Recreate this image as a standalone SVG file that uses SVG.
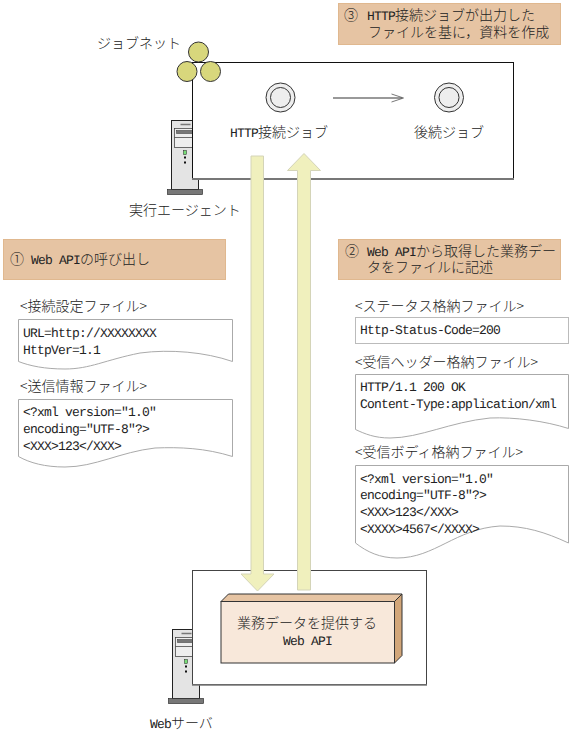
<svg xmlns="http://www.w3.org/2000/svg" width="572" height="735" viewBox="0 0 572 735">
<style>
text{font-family:"Liberation Mono","Noto Sans CJK JP",monospace;font-size:13px;letter-spacing:-.8px;fill:#222;white-space:pre;text-rendering:geometricPrecision}
.j{font-family:"Noto Sans CJK JP","Liberation Sans",sans-serif;font-size:14px;letter-spacing:0;font-weight:300;text-rendering:auto}
.note{fill:#e6c4a3;stroke:#e0b88f;stroke-width:1}
.doc{fill:#fff;stroke:#aaa;stroke-width:1}
.box{fill:#fff;stroke:#111;stroke-width:1}
.shade{fill:none;stroke:#777;stroke-width:2}
.arrow{fill:#f0f0bd;stroke:#d4d4b8;stroke-width:1}
.net{fill:#d8d77c;stroke:#333;stroke-width:1}
</style>
<defs>
<g id="server">
<rect x="0" y="0" width="27" height="69" fill="#e4e4e4" stroke="#222"/>
<rect x="-4" y="69" width="35" height="5" fill="#777" stroke="#333" stroke-width=".7"/>
<rect x="3" y="8" width="21" height="19" fill="#eee" stroke="#333" stroke-width=".7"/>
<rect x="5" y="10" width="18" height="3" fill="#777" stroke="#333" stroke-width=".5"/>
<line x1="3" y1="17" x2="24" y2="17" stroke="#333" stroke-width=".7"/>
<line x1="9" y1="4" x2="19" y2="4" stroke="#777" stroke-width="1.500"/>
<rect x="12" y="30" width="3" height="4" fill="#7d7" stroke="#222" stroke-width=".5"/>
<rect x="12.500" y="36" width="2" height="2" fill="#111"/>
<rect x="12.500" y="41" width="2" height="2" fill="#111"/>
</g>
<g id="job">
<circle r="14.500" fill="#eee" stroke="#333"/>
<circle r="10" fill="#eee" stroke="#333"/>
</g>
</defs>

<g id="agent-server"><use href="#server" x="171.500" y="120.500"/></g>
<g id="jobnet">
<rect class="box" x="192.500" y="62.500" width="321" height="116"/>
<path class="shade" d="M192 179H514"/>
<circle class="net" cx="198.500" cy="52" r="10"/>
<circle class="net" cx="187" cy="71.500" r="10"/>
<circle class="net" cx="210.500" cy="71.500" r="10"/>
<text x="97" y="48" class="j">ジョブネット</text>
</g>
<g id="job1"><use href="#job" x="280.500" y="97.500"/>
<text y="137"><tspan x="230">HTTP</tspan><tspan class="j" x="258">接続ジョブ</tspan></text></g>
<g id="job2"><use href="#job" x="449" y="97.500"/>
<text x="414" y="137" class="j">後続ジョブ</text></g>
<g id="agent-label"><text x="129" y="215" class="j">実行エージェント</text></g>

<g id="note3"><rect class="note" x="338.500" y="3.500" width="222" height="41"/>
<text y="20"><tspan class="j" x="344">③</tspan><tspan x="367">HTTP</tspan><tspan class="j" x="395">接続ジョブが出力した</tspan></text>
<text x="368" y="37" class="j">ファイルを基に，資料を作成</text></g>

<g id="note1"><rect class="note" x="3.500" y="239.500" width="222" height="40"/>
<text y="264"><tspan class="j" x="10">①</tspan><tspan x="31">Web API</tspan><tspan class="j" x="80">の呼び出し</tspan></text></g>

<g id="note2"><rect class="note" x="338.500" y="239.500" width="222" height="40"/>
<text y="256"><tspan class="j" x="345">②</tspan><tspan x="367">Web API</tspan><tspan class="j" x="416">から取得した業務デー</tspan></text>
<text x="367" y="272" class="j">タをファイルに記述</text></g>

<g id="file-conn">
<text x="20" y="311" class="j">&lt;接続設定ファイル&gt;</text>
<path class="doc" d="M18.500 319.500H232.500V361.500C205 352 170 349 140 353C105 360 90 369 65 369C45 369 30 366 18.500 361.500Z"/>
<text x="23" y="337">URL=http://XXXXXXXX</text>
<text x="23" y="354">HttpVer=1.1</text>
</g>
<g id="file-send">
<text x="20" y="391" class="j">&lt;送信情報ファイル&gt;</text>
<path class="doc" d="M18.500 399.500H232.500V456.500C205 448 180 447 155 448C120 452 95 467 65 467C45 467 30 463 18.500 456.500Z"/>
<text x="23" y="416">&lt;?xml version="1.0"</text>
<text x="23" y="433">encoding="UTF-8"?&gt;</text>
<text x="23" y="450">&lt;XXX&gt;123&lt;/XXX&gt;</text>
</g>
<g id="file-status">
<text x="355" y="311" class="j">&lt;ステータス格納ファイル&gt;</text>
<rect x="355.500" y="317.500" width="213" height="26" fill="#fff" stroke="#bbb"/>
<text x="360" y="334">Http-Status-Code=200</text>
</g>
<g id="file-head">
<text x="355" y="367" class="j">&lt;受信ヘッダー格納ファイル&gt;</text>
<path class="doc" d="M355.500 374.500H568.500V428.500C545 421 515 417 490 418C450 422 420 438 390 438C375 438 365 434 355.500 429.500Z"/>
<text x="360" y="391">HTTP/1.1 200 OK</text>
<text x="360" y="408">Content-Type:application/xml</text>
</g>
<g id="file-body">
<text x="355" y="457" class="j">&lt;受信ボディ格納ファイル&gt;</text>
<path class="doc" d="M355.500 465.500H568.500V543C545 532 525 526 500 526C455 529 435 558 397 558C380 558 367 552 355.500 543Z"/>
<text x="360" y="483">&lt;?xml version="1.0"</text>
<text x="360" y="499">encoding="UTF-8"?&gt;</text>
<text x="360" y="516">&lt;XXX&gt;123&lt;/XXX&gt;</text>
<text x="360" y="533">&lt;XXXX&gt;4567&lt;/XXXX&gt;</text>
</g>

<g id="web-server"><use href="#server" x="172.500" y="629.500"/>
<text y="728"><tspan x="150">Web</tspan><tspan class="j" x="171">サーバ</tspan></text></g>
<g id="webbox">
<rect x="192.500" y="570.500" width="234" height="114" fill="#fff" stroke="#444"/>
<path d="M192 685H427" fill="none" stroke="#777" stroke-width="1.500"/>
</g>
<g id="api">
<path d="M221 601.500L228.500 594H402L394.500 601.500Z" fill="#e6c4a3" stroke="#333"/>
<path d="M394.500 601.500L402 594V655.500L394.500 663Z" fill="#d2a679" stroke="#333"/>
<rect x="221" y="601.500" width="173.500" height="61.500" fill="#f8e8da" stroke="#333"/>
<text x="237" y="628" class="j">業務データを提供する</text>
<text x="283" y="645">Web API</text>
</g>

<g id="connectors">
<path d="M333 98H402" fill="none" stroke="#777" stroke-width="1.500"/>
<path d="M391.500 94L403.500 98L391.500 102" fill="none" stroke="#555" stroke-width=".8"/>
<path class="arrow" d="M251 156H263.500V574H274L257.500 591L241 574H251Z"/>
<path class="arrow" d="M297.500 590V170.500H287.500L304 153.500L320.500 170.500H310.500V590Z"/>
</g>
</svg>
